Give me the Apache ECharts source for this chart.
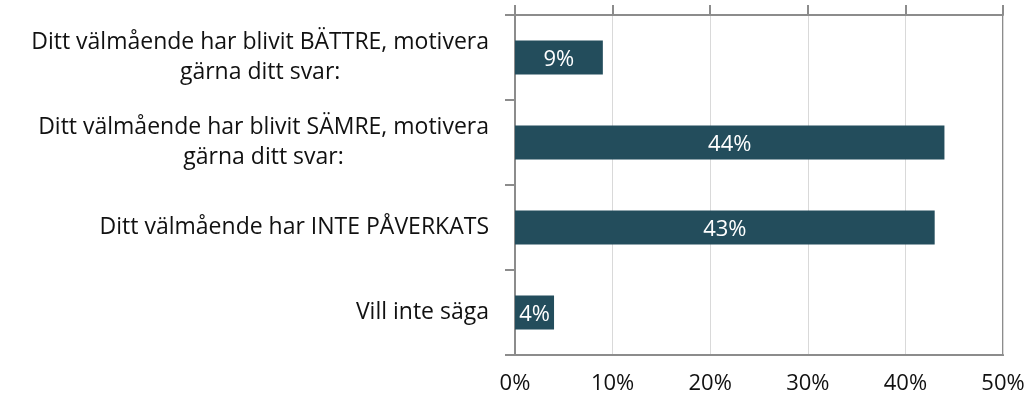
<!doctype html>
<html lang="sv">
<head>
<meta charset="utf-8">
<title>Välmående</title>
<script src="https://cdn.jsdelivr.net/npm/echarts@6/dist/echarts.min.js"></script>
<style>html,body{margin:0;padding:0;background:#fff;}</style>
</head>
<body>
<div id="main" style="width:1028px;height:401px;"></div>
<script type="text/javascript">
var categories = [
    'Ditt välmående har blivit BÄTTRE, motivera\ngärna ditt svar:',
    'Ditt välmående har blivit SÄMRE, motivera\ngärna ditt svar:',
    'Ditt välmående har INTE PÅVERKATS',
    'Vill inte säga'
];
var values = [9, 44, 43, 4];

var font = 'Open Sans';
var labelSize = 23;

// two-line labels: lines centred on each other, block still ending at the axis
var catData = categories.map(function (c) {
    if (c.indexOf('\n') < 0) return c;
    var probe = echarts.format.getTextRect
        ? echarts.format.getTextRect(c.split('\n')[0], labelSize + 'px ' + font).width
        : 455;
    return { value: c, textStyle: { align: 'center', padding: [4, probe, 0, 0] } };
});

var chart = echarts.init(document.getElementById('main'));
chart.setOption({
    animation: false,
    grid: { left: 515, top: 15, right: 25, bottom: 46, show: true, borderColor: '#8c8c8c', borderWidth: 2 },
    xAxis: [{
        type: 'value', min: 0, max: 50, interval: 10, position: 'bottom',
        axisLine: { show: true, lineStyle: { color: '#8c8c8c', width: 2 } },
        axisTick: { show: false },
        splitLine: { show: true, lineStyle: { color: '#d9d9d9', width: 1 } },
        axisLabel: { formatter: '{value}%', color: '#111', fontSize: 22, fontFamily: font, margin: 18 }
    }, {
        type: 'value', min: 0, max: 50, interval: 10, position: 'top',
        axisLine: { show: true, lineStyle: { color: '#8c8c8c', width: 2 } },
        axisTick: { show: true, length: 10, lineStyle: { color: '#8c8c8c', width: 2 } },
        axisLabel: { show: false },
        splitLine: { show: false }
    }],
    yAxis: {
        type: 'category', data: catData, inverse: true,
        axisLine: { show: true, lineStyle: { color: '#8c8c8c', width: 2 } },
        axisTick: { show: true, length: 10, lineStyle: { color: '#8c8c8c', width: 2 } },
        axisLabel: { color: '#111', fontSize: labelSize, fontFamily: font, margin: 26, align: 'right', lineHeight: 30, padding: [4, 0, 0, 0] }
    },
    series: [{
        type: 'bar', data: values, xAxisIndex: 0,
        barCategoryGap: '60%',
        itemStyle: { color: '#234d5c' },
        label: { show: true, position: 'inside', formatter: '{c}%', color: '#fff', fontSize: 22, fontFamily: font, offset: [0, 2] }
    }]
});
</script>
</body>
</html>
